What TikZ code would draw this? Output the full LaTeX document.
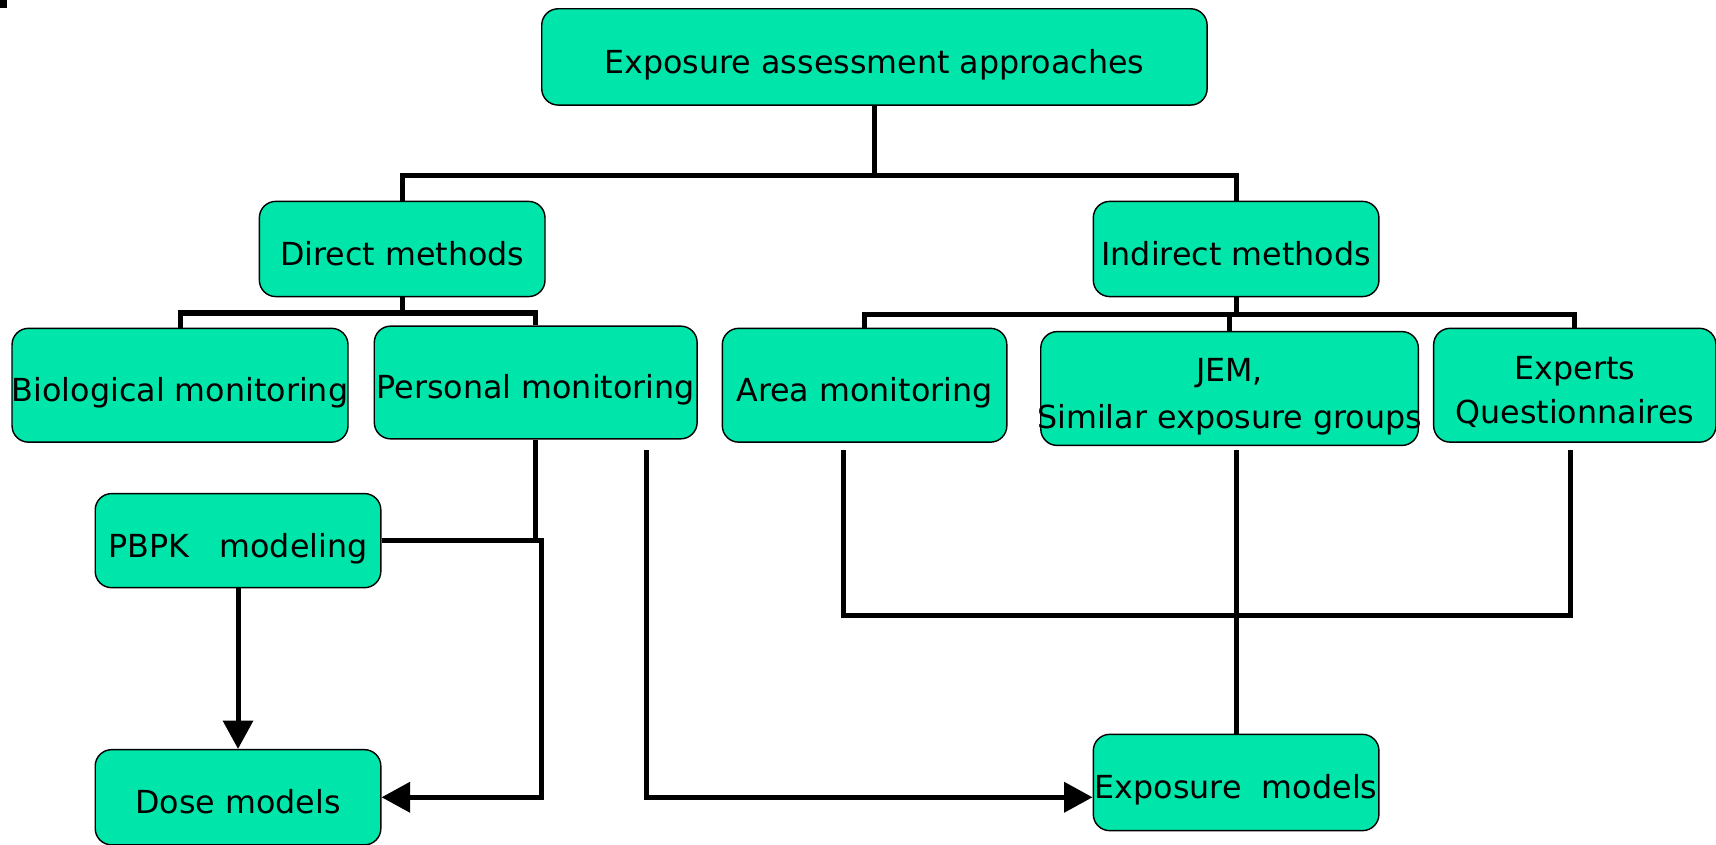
\documentclass[tikz,border=0pt]{standalone}
\usepackage{fontspec}
\setmainfont{DejaVu Sans}
\usetikzlibrary{arrows.meta}
\definecolor{boxgreen}{RGB}{0,229,170}
\newcommand{\zb}[1]{\smash{\raisebox{-15pt}{\makebox[0pt][c]{#1}}}}
\tikzset{
  box/.style={draw=black, line width=1.3pt, fill=boxgreen, rounded corners=15pt,
    inner sep=0pt, align=center, font=\fontsize{29}{40}\selectfont},
  conn/.style={line width=4.6pt},
  arr/.style={conn, -{Triangle[length=26pt,width=27pt]}}
}
\begin{document}
\begin{tikzpicture}[x=1pt,y=-1pt]
\useasboundingbox (0,0) rectangle (1568,772);
\fill[black] (0,0) rectangle (6,7);
% nodes
\node[box, minimum width=608pt, minimum height=88pt] (top) at (799,52) {\zb{Exposure assessment approaches}};
\node[box, minimum width=261pt, minimum height=87pt] (dm) at (367.5,227.5) {\zb{Direct methods}};
\node[box, minimum width=261pt, minimum height=87pt] (im) at (1129.5,227.5) {\zb{Indirect methods}};
\node[box, minimum width=307pt, minimum height=104pt] (bio) at (164.5,352) {\zb{Biological monitoring}};
\node[box, minimum width=295pt, minimum height=103pt] (pm) at (489.5,349.5) {\zb{Personal monitoring}};
\node[box, minimum width=260pt, minimum height=104pt] (am) at (790,352) {\zb{Area monitoring}};
\node[box, minimum width=345pt, minimum height=104pt] (jem) at (1123.5,355) {\zb{JEM,}\\[3pt]\zb{Similar exposure groups}};
\node[box, minimum width=258pt, minimum height=104pt] (exq) at (1439,352) {\zb{Experts}\\\zb{Questionnaires}};
\node[box, minimum width=261pt, minimum height=86pt] (pbpk) at (217.5,494) {\zb{PBPK\ \ \ modeling}};
\node[box, minimum width=261pt, minimum height=87pt] (dose) at (217.5,728.5) {\zb{Dose models}};
\node[box, minimum width=261pt, minimum height=88pt] (em) at (1129.5,715) {\zb{Exposure\ \ models}};
% coordinates
\coordinate (j1) at (799,160);
\coordinate (j2) at (367.5,286);
\coordinate (j3) at (1129.5,287);
\coordinate (s1) at (591,411);
\coordinate (a1) at (771,411);
\coordinate (a2) at (1435,411);
\coordinate (a3) at (1435,562);
\coordinate (j5) at (1129.5,411);
% connectors
\draw[conn] (top.south) -- (j1);
\draw[conn] (dm.north) |- (j1) -| (im.north);
\draw[conn] (dm.south) -- (j2);
\draw[conn] (bio.north) |- (j2) -| (pm.north);
\draw[conn] (im.south) -- (j3);
\draw[conn] (am.north) |- (j3) -| (exq.north);
\draw[conn] (jem.north) -- (jem.north |- j3);
\draw[conn] (pm.south) |- (pbpk.east);
\draw[arr] (pbpk.east) -- ++(146,0) |- (dose.east);
\draw[arr] (pbpk.south) -- (dose.north);
\draw[arr] (s1) |- (em.west |- dose.east);
\draw[conn] (a1) |- (a3) -- (a2);
\draw[conn] (j5) -- (em.north);
\end{tikzpicture}
\end{document}
